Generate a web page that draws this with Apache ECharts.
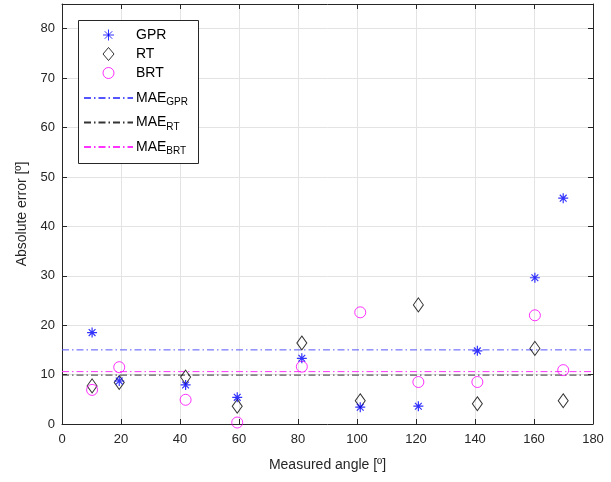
<!DOCTYPE html>
<html>
<head>
<meta charset="utf-8">
<script src="https://cdn.jsdelivr.net/npm/echarts@6/dist/echarts.min.js"></script>
<style>
  html, body { margin: 0; padding: 0; background: #fff; }
  #main { width: 611px; height: 482px; }
</style>
</head>
<body>
<div id="main"></div>
<script>
// measured angles (same for every method)
var angles = [10.2, 19.4, 41.9, 59.4, 81.3, 101.1, 120.8, 140.8, 160.3, 169.9];
var gprErr = [18.5, 8.7, 7.9, 5.4, 13.3, 3.4, 3.6, 14.8, 29.6, 45.7];
var rtErr = [7.7, 8.4, 9.5, 3.6, 16.4, 4.7, 24.1, 4.1, 15.3, 4.7];
var brtErr = [6.9, 11.5, 4.9, 0.3, 11.6, 22.6, 8.5, 8.5, 22.0, 10.9];
var maeGpr = 15.0;
var maeRt = 9.9;
var maeBrt = 10.6;
var xTicks = [0, 180, 20];
var yTicks = [0, 85, 10];

var axisColor = '#262626';
var font = 'Liberation Sans, Arial, sans-serif';
var star = 'path://M5,0L5,10M0,5L10,5M1.6,1.6L8.4,8.4M1.6,8.4L8.4,1.6';
var dashDot = [7, 3, 1.5, 3];

var pairs = function (vals) {
    return angles.map(function (a, i) { return [a, vals[i]]; });
};
var flat = function (v) {
    return [[xTicks[0], v], [xTicks[1], v]];
};
var subName = function (name) {
    var p = name.split('_');
    return '{m|' + p[0] + '}{s|' + p[1] + '}';
};

var myChart = echarts.init(document.getElementById('main'));
var tickStyle = { inside: true, length: 5, lineStyle: { color: axisColor } };
var labelStyle = function (margin) {
    return { color: axisColor, fontSize: 13, fontFamily: font, margin: margin };
};
var nameStyle = { color: axisColor, fontSize: 14, fontFamily: font };
var gridLine = { show: true, lineStyle: { color: '#e3e3e3' } };
var mirrorAxis = {
    axisLine: { onZero: false, lineStyle: { color: axisColor, width: 1 } },
    axisTick: tickStyle,
    axisLabel: { show: false },
    splitLine: { show: false }
};

option = {
    animation: false,
    backgroundColor: '#fff',
    grid: { left: 62, right: 18, top: 4, bottom: 58 },
    xAxis: [{
        type: 'value', min: xTicks[0], max: xTicks[1], interval: xTicks[2],
        name: 'Measured angle [º]', nameLocation: 'middle', nameGap: 34,
        nameTextStyle: nameStyle,
        axisLine: { onZero: false, lineStyle: { color: axisColor } },
        axisTick: tickStyle,
        axisLabel: labelStyle(9),
        splitLine: gridLine
    }, Object.assign({
        type: 'value', position: 'top', min: xTicks[0], max: xTicks[1], interval: xTicks[2]
    }, mirrorAxis)],
    yAxis: [{
        type: 'value', min: yTicks[0], max: yTicks[1], interval: yTicks[2],
        name: 'Absolute error [º]', nameLocation: 'middle', nameGap: 33,
        nameTextStyle: nameStyle,
        axisLine: { onZero: false, lineStyle: { color: axisColor } },
        axisTick: tickStyle,
        axisLabel: Object.assign(labelStyle(7), { showMaxLabel: false }),
        splitLine: gridLine
    }, Object.assign({
        type: 'value', position: 'right', min: yTicks[0], max: yTicks[1], interval: yTicks[2]
    }, mirrorAxis)],
    graphic: [{
        type: 'rect', z: 3,
        shape: { x: 78.5, y: 20.5, width: 120, height: 143 },
        style: { fill: '#fff', stroke: axisColor, lineWidth: 1 }
    }],
    legend: [{
        orient: 'vertical', left: 97.5, top: 23, z: 5,
        itemWidth: 11, itemHeight: 13, itemGap: 5,
        data: ['GPR', 'RT', 'BRT'],
        itemStyle: { borderWidth: 1 },
        textStyle: { color: '#000', fontSize: 14, fontFamily: font, padding: [0, 0, 0, 17] }
    }, {
        orient: 'vertical', left: 78, top: 86, z: 5,
        itemWidth: 49, itemHeight: 14, itemGap: 8,
        data: ['MAE_GPR', 'MAE_RT', 'MAE_BRT'],
        formatter: subName,
        itemStyle: { opacity: 0 },
        textStyle: {
            color: '#000', fontFamily: font, padding: [0, 0, 0, -2],
            rich: {
                m: { fontSize: 14, fontFamily: font, color: '#000' },
                s: { fontSize: 10, fontFamily: font, color: '#000', padding: [9, 0, 0, 0] }
            }
        }
    }],
    series: [{
        name: 'GPR', type: 'scatter', data: pairs(gprErr),
        symbol: star, symbolSize: 10, z: 4,
        itemStyle: { color: 'rgba(0,0,0,0)', borderColor: '#0000ff', borderWidth: 1.2 }
    }, {
        name: 'RT', type: 'scatter', data: pairs(rtErr),
        symbol: 'diamond', symbolSize: [10, 14], z: 3,
        itemStyle: { color: 'rgba(0,0,0,0)', borderColor: '#000', borderWidth: 1 }
    }, {
        name: 'BRT', type: 'scatter', data: pairs(brtErr),
        symbol: 'circle', symbolSize: 11, z: 3,
        itemStyle: { color: 'rgba(0,0,0,0)', borderColor: '#ff00ff', borderWidth: 1 }
    }, {
        name: 'MAE_GPR', type: 'line', data: flat(maeGpr), symbol: 'none',
        lineStyle: { color: '#5555ff', width: 1, type: dashDot },
        itemStyle: { color: '#5555ff' }
    }, {
        name: 'MAE_RT', type: 'line', data: flat(maeRt), symbol: 'none',
        lineStyle: { color: '#333', width: 1, type: dashDot },
        itemStyle: { color: '#333' }
    }, {
        name: 'MAE_BRT', type: 'line', data: flat(maeBrt), symbol: 'none',
        lineStyle: { color: '#ff33ff', width: 1, type: dashDot },
        itemStyle: { color: '#ff33ff' }
    }]
};
myChart.setOption(option);
</script>
</body>
</html>
